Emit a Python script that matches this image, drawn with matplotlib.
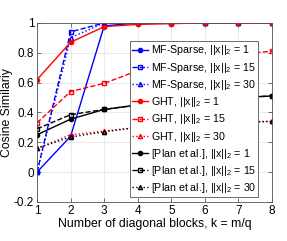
import matplotlib.pyplot as plt
import numpy as np

plt.rcParams['font.family'] = ['Liberation Sans', 'DejaVu Sans']
plt.rcParams['mathtext.fontset'] = 'custom'
plt.rcParams['mathtext.rm'] = 'Liberation Sans'
plt.rcParams['mathtext.it'] = 'Liberation Sans'

# data
k = [1, 2, 3, 4, 5, 6, 7, 8]
mf_1 = [0.0, 0.24, 0.98, 1.0, 1.0, 1.0, 1.0, 1.0]
mf_15 = [0.0, 0.94, 1.0, 1.0, 1.0, 1.0, 1.0, 1.0]
mf_30 = [0.0, 0.90, 1.0, 1.0, 1.0, 1.0, 1.0, 1.0]
ght_1 = [0.62, 0.87, 0.975, 0.99, 0.995, 1.0, 1.0, 1.0]
ght_15 = [0.33, 0.54, 0.595, 0.68, 0.73, 0.77, 0.79, 0.81]
ght_30 = [0.16, 0.25, 0.275, 0.30, 0.315, 0.325, 0.335, 0.34]
plan_1 = [0.25, 0.355, 0.42, 0.45, 0.47, 0.49, 0.50, 0.51]
plan_15 = [0.29, 0.385, 0.42, 0.45, 0.47, 0.49, 0.50, 0.51]
plan_30 = [0.16, 0.235, 0.27, 0.30, 0.315, 0.325, 0.335, 0.34]

series = [
    (mf_1, 'b', '-', 'o', r'MF-Sparse, ||x||$_2$ = 1'),
    (mf_15, 'b', '--', 's', r'MF-Sparse, ||x||$_2$ = 15'),
    (mf_30, 'b', ':', '^', r'MF-Sparse, ||x||$_2$ = 30'),
    (ght_1, 'r', '-', 'o', r'GHT, ||x||$_2$ = 1'),
    (ght_15, 'r', '--', 's', r'GHT, ||x||$_2$ = 15'),
    (ght_30, 'r', ':', '^', r'GHT, ||x||$_2$ = 30'),
    (plan_1, 'k', '-', 'o', r'[Plan et al.], ||x||$_2$ = 1'),
    (plan_15, 'k', '--', 's', r'[Plan et al.], ||x||$_2$ = 15'),
    (plan_30, 'k', ':', '^', r'[Plan et al.], ||x||$_2$ = 30'),
]

fig = plt.figure(figsize=(2.87, 2.41), dpi=100)
ax = fig.add_axes([0.129, 0.162, 0.819, 0.743])

for y, c, ls, m, lab in series:
    ax.plot(k, y, color=c, linestyle=ls, marker=m, lw=1, ms=3.0,
            mfc=c if m == 'o' else 'none', mew=1, label=lab)

ax.set_xlim(1, 8)
ax.set_ylim(-0.2, 1)
ax.set_xticks(range(1, 9))
ax.set_yticks(np.arange(-0.2, 1.01, 0.2))
ax.set_yticklabels(['-0.2', '0', '0.2', '0.4', '0.6', '0.8', '1'])
ax.grid(True, color='#e6e6e6', lw=0.6)
ax.set_axisbelow(True)
ax.tick_params(direction='in', top=True, right=True, labelsize=8.5,
               length=3, width=0.6, color='#555555', pad=2)
for s in ax.spines.values():
    s.set_color('#555555')
    s.set_linewidth(0.6)

ax.set_xlabel('Number of diagonal blocks, k = m/q', fontsize=8.8, labelpad=1)
ax.set_ylabel('Cosine Similariy', fontsize=8.8, labelpad=1)

leg = ax.legend(loc='upper left', bbox_to_anchor=(0.395, 0.897), fontsize=7.7,
                handlelength=1.5, handletextpad=0.25, labelspacing=0.3,
                borderpad=0.2, borderaxespad=0, frameon=True, fancybox=False,
                framealpha=1, edgecolor='#555555')
leg.get_frame().set_linewidth(0.6)

fig.savefig('out.png', dpi=100)
